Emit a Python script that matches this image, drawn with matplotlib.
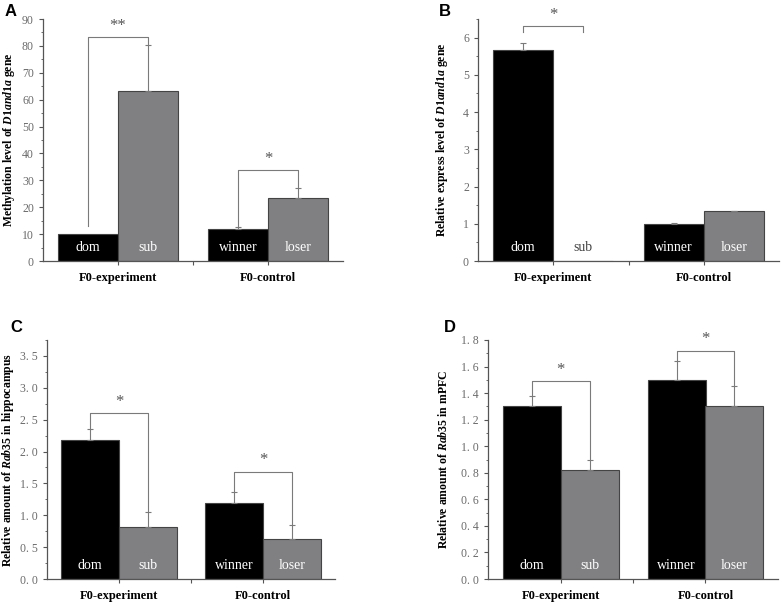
import matplotlib
matplotlib.use("Agg")
import matplotlib.pyplot as plt
from matplotlib.ticker import MultipleLocator, FuncFormatter

plt.rcParams["font.family"] = ["Liberation Serif", "DejaVu Serif"]
plt.rcParams["mathtext.fontset"] = "custom"
plt.rcParams["mathtext.it"] = "Liberation Serif:italic:bold"
plt.rcParams["mathtext.rm"] = "Liberation Serif:bold"

# data
groups = ["F0-experiment", "F0-control"]
bar_labels = ["dom", "sub", "winner", "loser"]

a_vals = [10.0, 63.2, 11.8, 23.3]
a_err = [0.0, 17.3, 0.9, 4.0]
b_vals = [5.67, 0.0, 1.0, 1.33]
b_err = [0.18, 0.0, 0.02, 0.02]
c_vals = [2.18, 0.82, 1.19, 0.63]
c_err = [0.18, 0.23, 0.17, 0.21]
d_vals = [1.30, 0.82, 1.50, 1.30]
d_err = [0.08, 0.08, 0.14, 0.15]

# brackets: (left bar, right bar, top, left end, right end, stars)
a_sig = [(0, 1, 83.2, 13.0, 80.5, "**"), (2, 3, 33.7, 12.7, 27.3, "*")]
b_sig = [(0, 1, 6.3, 6.15, 6.15, "*")]
c_sig = [(0, 1, 2.60, 2.36, 1.05, "*"), (2, 3, 1.68, 1.36, 0.84, "*")]
d_sig = [(0, 1, 1.49, 1.38, 0.90, "*"), (2, 3, 1.72, 1.64, 1.45, "*")]

x_pos = [0.75, 1.75, 3.25, 4.25]
group_pos = [1.25, 3.75]
bar_colors = ["black", "#808083", "black", "#808083"]
gray = "#7a7a7a"


def draw_panel(ax, vals, errs, sig, ymax, major, minor, ylabel, fmt, lab_x,
               sub_dark=False):
    ax.bar(x_pos, vals, width=1.0, color=bar_colors, edgecolor="#444444", linewidth=0.8)
    for x, v, e in zip(x_pos, vals, errs):
        if e > 0:
            ax.errorbar(x, v, yerr=[[0], [e]], fmt="none", ecolor=gray, elinewidth=0.8,
                        capsize=2, capthick=0.8)
    for i, (x, lab) in enumerate(zip(x_pos, bar_labels)):
        col = "white"
        if sub_dark and i == 1:
            col = "#444444"
        ax.text(x, ymax * 0.055, lab, color=col, ha="center", va="center", fontsize=10)
    for l, r, top, le, re, stars in sig:
        xl, xr = x_pos[l], x_pos[r]
        ax.plot([xl, xl, xr, xr], [le, top, top, re], color=gray, lw=0.8)
        ax.text((xl + xr) / 2, top + ymax * 0.015, stars, ha="center", va="bottom",
                color="#555555", fontsize=12)
    ax.set_xlim(0, 5)
    ax.set_ylim(0, ymax)
    ax.spines["top"].set_visible(False)
    ax.spines["right"].set_visible(False)
    for s in ["left", "bottom"]:
        ax.spines[s].set_color("#555555")
        ax.spines[s].set_linewidth(0.9)
    ax.yaxis.set_major_locator(MultipleLocator(major))
    ax.yaxis.set_minor_locator(MultipleLocator(minor))
    ax.yaxis.set_major_formatter(FuncFormatter(fmt))
    ax.tick_params(axis="y", which="major", length=3, width=0.8, colors="#555555",
                   labelcolor="#6a6a6a", labelsize=8.5)
    ax.tick_params(axis="y", which="minor", length=1.8, width=0.6, colors="#555555")
    ax.set_xticks([1.25, 2.5, 3.75])
    ax.set_xticklabels([])
    ax.tick_params(axis="x", length=3, width=0.8, colors="#555555")
    for gx, g in zip(group_pos, groups):
        ax.text(gx, -0.07, g, transform=ax.get_xaxis_transform(), ha="center", va="center",
                fontsize=9, fontweight="bold")
    ax.set_ylabel(ylabel, fontsize=8.5, fontweight="bold")
    ax.yaxis.set_label_coords(lab_x, 0.5)


fig = plt.figure(figsize=(7.82, 6.11), dpi=100)
ax_a = fig.add_axes([43 / 782, 1 - 261 / 611, 300 / 782, 242 / 611])
ax_b = fig.add_axes([478 / 782, 1 - 261 / 611, 301 / 782, 242 / 611])
ax_c = fig.add_axes([47 / 782, 1 - 579 / 611, 288 / 782, 239 / 611])
ax_d = fig.add_axes([488 / 782, 1 - 579 / 611, 290 / 782, 239 / 611])

int_fmt = lambda v, p: f"{v:.0f}"
dec_fmt = lambda v, p: f"{v:.1f}".replace(".", ". ")

draw_panel(ax_a, a_vals, a_err, a_sig, 90, 10, 5,
           r"Methylation level of $D1and1a$ gene", int_fmt, -0.087)
draw_panel(ax_b, b_vals, b_err, b_sig, 6.5, 1, 0.5,
           r"Relative express level of $D1and1a$ gene", int_fmt, -0.093, sub_dark=True)
draw_panel(ax_c, c_vals, c_err, c_sig, 3.75, 0.5, 0.25,
           r"Relative amount of $Rab35$ in hippocampus", dec_fmt, -0.108)
draw_panel(ax_d, d_vals, d_err, d_sig, 1.8, 0.2, 0.1,
           r"Relative amount of $Rab35$ in mPFC", dec_fmt, -0.131)

# panel letters
for letter, (px, py) in zip("ABCD", [(5, 12), (439, 12), (10, 327), (444, 327)]):
    fig.text(px / 782, 1 - py / 611, letter, fontsize=12, fontweight="bold",
             family="Liberation Sans", ha="left", va="center")

fig.savefig("out.png", dpi=100)
